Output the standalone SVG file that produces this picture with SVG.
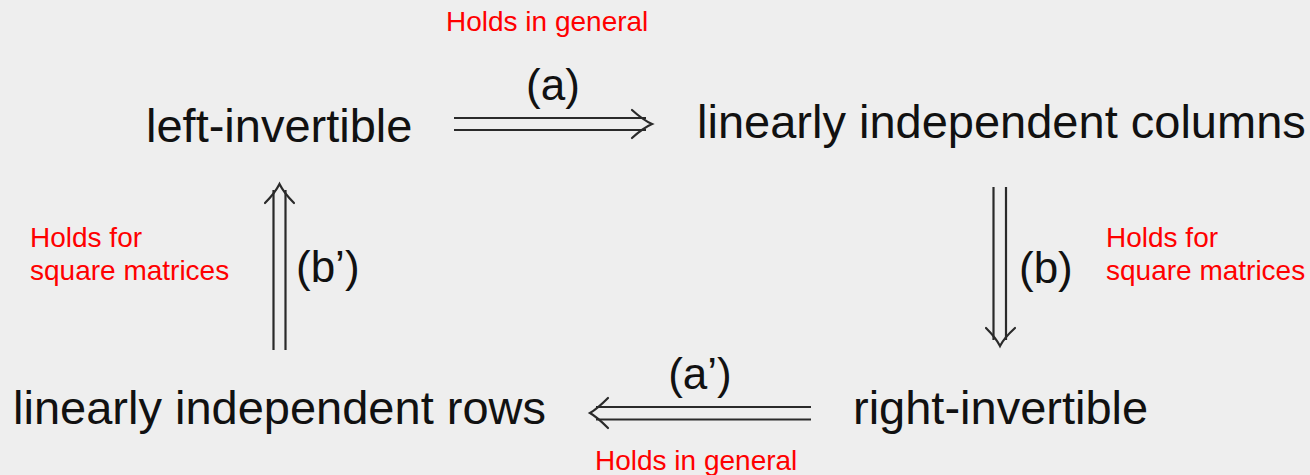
<svg xmlns="http://www.w3.org/2000/svg" width="1310" height="475" viewBox="0 0 1310 475">
<style>
.node{font-family:"Liberation Sans",Arial,sans-serif;font-size:47px;fill:#111}
.lab{font-family:"Liberation Sans",Arial,sans-serif;font-size:44px;fill:#111}
.red{font-family:"Liberation Sans",Arial,sans-serif;font-size:28px;fill:#ff0000}
.ln{stroke:#2a2a2a;stroke-width:2.2;fill:none}
.hd{stroke:#2a2a2a;stroke-width:2.2;fill:none;stroke-linecap:round}
</style>
<rect width="1310" height="475" fill="#eeeeee"/>
<g id="node-left-invertible"><text class="node" x="146" y="142">left-invertible</text></g>
<g id="node-lin-indep-columns"><text class="node" x="697" y="138">linearly independent columns</text></g>
<g id="node-right-invertible"><text class="node" x="853" y="424">right-invertible</text></g>
<g id="node-lin-indep-rows"><text class="node" x="13" y="424">linearly independent rows</text></g>
<g id="connectors">
  <g id="arrow-a">
    <line class="ln" x1="454" y1="118" x2="646" y2="118"/>
    <line class="ln" x1="454" y1="130" x2="646" y2="130"/>
    <path class="hd" d="M632 110 Q643 120 652 124 Q643 128 632 138"/>
  </g>
  <g id="arrow-b">
    <line class="ln" x1="993.5" y1="187" x2="993.5" y2="340"/>
    <line class="ln" x1="1006" y1="187" x2="1006" y2="340"/>
    <path class="hd" d="M986 328 Q996 338 1000 346 Q1004 338 1015 328"/>
  </g>
  <g id="arrow-a-prime">
    <line class="ln" x1="596" y1="407" x2="811" y2="407"/>
    <line class="ln" x1="596" y1="419.5" x2="811" y2="419.5"/>
    <path class="hd" d="M608 398 Q597 409 590 413 Q597 417 608 428"/>
  </g>
  <g id="arrow-b-prime">
    <line class="ln" x1="273.5" y1="190" x2="273.5" y2="350"/>
    <line class="ln" x1="285.5" y1="190" x2="285.5" y2="350"/>
    <path class="hd" d="M265 203 Q275 193 279.5 184 Q284 193 294 203"/>
  </g>
  <text class="lab" x="553" y="100" text-anchor="middle">(a)</text>
  <text class="lab" x="700" y="389" text-anchor="middle">(a’)</text>
  <text class="lab" x="1019" y="283">(b)</text>
  <text class="lab" x="296" y="282">(b’)</text>
</g>
<g id="notes">
  <text class="red" x="446" y="31">Holds in general</text>
  <text class="red" x="595" y="470">Holds in general</text>
  <text class="red" x="30" y="247">Holds for</text>
  <text class="red" x="30" y="280">square matrices</text>
  <text class="red" x="1106" y="247">Holds for</text>
  <text class="red" x="1106" y="280">square matrices</text>
</g>
</svg>
